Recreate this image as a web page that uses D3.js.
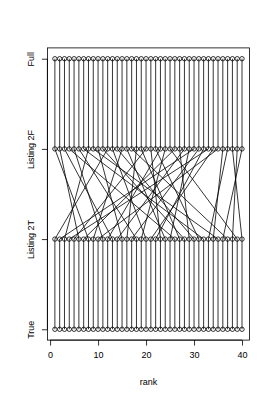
<!DOCTYPE html>
<html>
<head>
<meta charset="utf-8">
<script src="https://cdn.jsdelivr.net/npm/d3@7"></script>
<style>
  html, body { margin: 0; padding: 0; background: #fff; }
  svg { display: block; }
  text { font-family: "Liberation Sans", Arial, Helvetica, sans-serif; fill: #000; }
</style>
</head>
<body>
<svg id="chart" width="273" height="400"></svg>
<script>
// Levels on the y axis (bottom to top)
const levels = ["True", "Listing 2T", "Listing 2F", "Full"];
// Ranks on the x axis
const ranks = d3.range(1, 41);
// Mapping: rank at "Listing 2T" -> rank at "Listing 2F" (estimated from the crossing lines)
const rank2T = ranks;
const rank2F = [12, 30, 8, 33, 20, 2, 26, 1, 15, 35, 5, 23, 3, 28, 10, 18, 31, 6, 24, 13,
                34, 32, 21, 16, 29, 4, 19, 11, 27, 14, 22, 7, 37, 36, 9, 40, 17, 39, 25, 38];
const xTicks = [0, 10, 20, 30, 40];
const xLabel = "rank";

const svg = d3.select("#chart");
const box = { left: 47.4, right: 249.5, top: 47.9, bottom: 340.1 };

const x = d3.scaleLinear().domain([-0.56, 41.56]).range([box.left, box.right]);
const yl = d3.scaleLinear().domain([0.88, 4.12]).range([box.bottom, box.top]);
const yPos = lv => yl(levels.indexOf(lv) + 1);

const g = svg.append("g");

const links = [];
ranks.forEach(r => {
  links.push({ x1: r, l1: "True", x2: r, l2: "Listing 2T" });
  links.push({ x1: r, l1: "Listing 2F", x2: r, l2: "Full" });
});
rank2T.forEach((r, i) => {
  links.push({ x1: r, l1: "Listing 2T", x2: rank2F[i], l2: "Listing 2F" });
});

g.selectAll("line.link").data(links).join("line")
  .attr("class", "link")
  .attr("x1", d => x(d.x1)).attr("y1", d => yPos(d.l1))
  .attr("x2", d => x(d.x2)).attr("y2", d => yPos(d.l2))
  .attr("stroke", "#000").attr("stroke-width", 0.8);

const pts = [];
levels.forEach(lv => ranks.forEach(r => pts.push({ r, lv })));
g.selectAll("circle.pt").data(pts).join("circle")
  .attr("class", "pt")
  .attr("cx", d => x(d.r)).attr("cy", d => yPos(d.lv))
  .attr("r", 2.2)
  .attr("fill", "none").attr("stroke", "#000").attr("stroke-width", 0.8);

svg.append("rect")
  .attr("x", box.left).attr("y", box.top)
  .attr("width", box.right - box.left).attr("height", box.bottom - box.top)
  .attr("fill", "none").attr("stroke", "#000").attr("stroke-width", 0.8);

const xAxis = d3.axisBottom(x).tickValues(xTicks).tickSize(5.5).tickPadding(6);
const gx = svg.append("g").attr("transform", `translate(0,${box.bottom})`).call(xAxis);
gx.select(".domain").attr("d", `M${x(0)},0H${x(40)}`).attr("stroke-width", 0.8);
gx.selectAll(".tick line").attr("stroke-width", 0.8);
gx.selectAll("text").attr("font-size", 9).style("font-family", '"Liberation Sans", Arial, sans-serif');

const yAxis = d3.axisLeft(yl).tickValues([1, 2, 3, 4]).tickFormat(v => levels[v - 1]).tickSize(5.5).tickPadding(0);
const gy = svg.append("g").attr("transform", `translate(${box.left},0)`).call(yAxis);
gy.select(".domain").attr("d", `M0,${yl(1)}V${yl(4)}`).attr("stroke-width", 0.8);
gy.selectAll(".tick line").attr("stroke-width", 0.8);
gy.selectAll(".tick text")
  .attr("x", 0).attr("y", 0).attr("dy", null)
  .attr("text-anchor", "middle")
  .attr("dominant-baseline", "central")
  .attr("transform", "translate(-16,0) rotate(-90)")
  .attr("font-size", 9).style("font-family", '"Liberation Sans", Arial, sans-serif');

svg.append("text")
  .attr("x", (box.left + box.right) / 2).attr("y", 385)
  .attr("text-anchor", "middle").attr("font-size", 9)
  .text(xLabel);
</script>
</body>
</html>
